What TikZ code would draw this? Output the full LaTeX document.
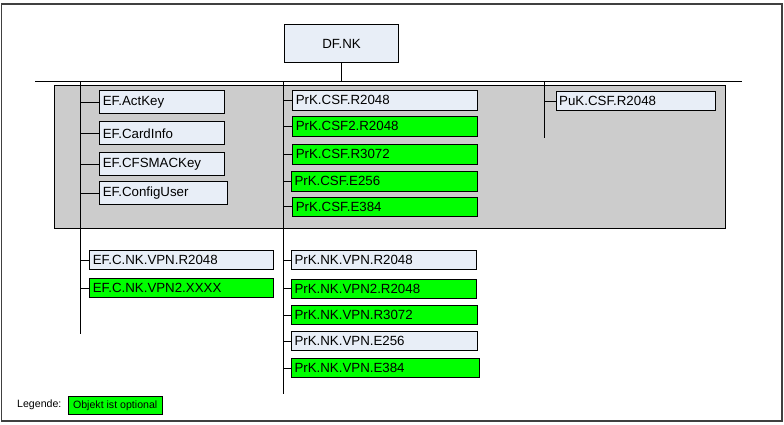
\documentclass[tikz,border=0pt]{standalone}
\usepackage{fontspec}
\setmainfont{Liberation Sans}
\definecolor{boxfill}{HTML}{E8EEF7}
\definecolor{optgreen}{HTML}{00FF00}
\definecolor{grayarea}{HTML}{CCCCCC}
\definecolor{frame}{HTML}{404040}
\tikzset{
  boxstyle/.style={draw=black,line width=1pt,inner xsep=3pt,inner ysep=0pt,align=left,
    font=\fontsize{13.3}{15}\selectfont,anchor=north west},
  wire/.style={draw=black,line width=1pt},
}
\newcommand{\mybox}[7]{%
  \pgfmathsetmacro{\bw}{#4-#2}\pgfmathsetmacro{\bh}{#5-#3}\pgfmathsetmacro{\tw}{#4-#2-6}%
  \node[boxstyle,fill=#6,minimum width=\bw pt,minimum height=\bh pt,text width=\tw pt] (#1) at (#2,#3) {#7};}
\begin{document}
\begin{tikzpicture}[x=1pt,y=-1pt]
\useasboundingbox (0,0) rectangle (784,424);
% outer frame
\draw[frame,line width=1.6pt] (1.5,4) rectangle (782,421);
% gray area
\draw[fill=grayarea,draw=black,line width=1pt] (54,85) rectangle (725,228);
% top box
\node[draw=black,line width=1pt,fill=boxfill,minimum width=114pt,minimum height=38pt,
  font=\fontsize{13.3}{15}\selectfont,anchor=north west] (df) at (284,24) {DF.NK};
% bus and trunks
\coordinate (busL) at (35,81);
\coordinate (busR) at (742,81);
\coordinate (tLtop) at (80,81);
\coordinate (tLbot) at (80,334);
\coordinate (tMtop) at (283,81);
\coordinate (tMbot) at (283,394);
\coordinate (tRtop) at (544,81);
\coordinate (tRbot) at (544,138);
\draw[wire] (busL) -- (busR);
\draw[wire] (df.south) -- (df.south |- busL);
\draw[wire] (tLtop) -- (tLbot);
\draw[wire] (tMtop) -- (tMbot);
\draw[wire] (tRtop) -- (tRbot);
% left column (inside gray)
\mybox{a1}{99.3}{90}{224.3}{113.3}{boxfill}{EF.ActKey}
\mybox{a2}{99.3}{121.3}{224.3}{144.3}{boxfill}{EF.CardInfo}
\mybox{a3}{99.3}{152.3}{224.3}{175.3}{boxfill}{EF.CFSMACKey}
\mybox{a4}{99.3}{181.3}{227.3}{204.3}{boxfill}{EF.ConfigUser}
% middle column (inside gray)
\mybox{b1}{292.3}{90}{476.5}{109.5}{boxfill}{PrK.CSF.R2048}
\mybox{b2}{292.3}{116.3}{476.5}{135.5}{optgreen}{PrK.CSF2.R2048}
\mybox{b3}{292.3}{144}{476.5}{163.7}{optgreen}{PrK.CSF.R3072}
\mybox{b4}{291}{171}{476.5}{190.5}{optgreen}{PrK.CSF.E256}
\mybox{b5}{292.3}{196.7}{476.5}{216}{optgreen}{PrK.CSF.E384}
% right column
\mybox{c1}{555.7}{91}{714.5}{110}{boxfill}{PuK.CSF.R2048}
% lower left
\mybox{d1}{89.3}{250}{272.7}{269.3}{boxfill}{EF.C.NK.VPN.R2048}
\mybox{d2}{89.3}{278.3}{272.7}{297.3}{optgreen}{EF.C.NK.VPN2.XXXX}
% lower middle
\mybox{e1}{291}{250}{475.7}{269.3}{boxfill}{PrK.NK.VPN.R2048}
\mybox{e2}{291}{278.7}{475.7}{297.7}{optgreen}{PrK.NK.VPN2.R2048}
\mybox{e3}{291}{305.3}{476.7}{324.3}{optgreen}{PrK.NK.VPN.R3072}
\mybox{e4}{291}{331.3}{476.7}{350.3}{boxfill}{PrK.NK.VPN.E256}
\mybox{e5}{291}{358.3}{478.7}{377.3}{optgreen}{PrK.NK.VPN.E384}
% connectors
\foreach \n in {a1,a2,a3,a4,d1,d2}{\draw[wire] (\n.west -| tLtop) -- (\n.west);}
\foreach \n in {b1,b2,b3,b4,b5,e1,e2,e3,e4,e5}{\draw[wire] (\n.west -| tMtop) -- (\n.west);}
\draw[wire] (c1.west -| tRtop) -- (c1.west);
% legend
\node[anchor=west,inner sep=0pt,font=\fontsize{10.6}{12}\selectfont] (leg) at (17,405) {Legende:};
\node[draw=black,line width=1pt,fill=optgreen,minimum width=94pt,minimum height=18pt,inner xsep=4pt,
  inner ysep=0pt,anchor=north west,font=\fontsize{10.6}{12}\selectfont] (legbox) at (67.7,396.3) {Objekt ist optional};
\end{tikzpicture}
\end{document}
